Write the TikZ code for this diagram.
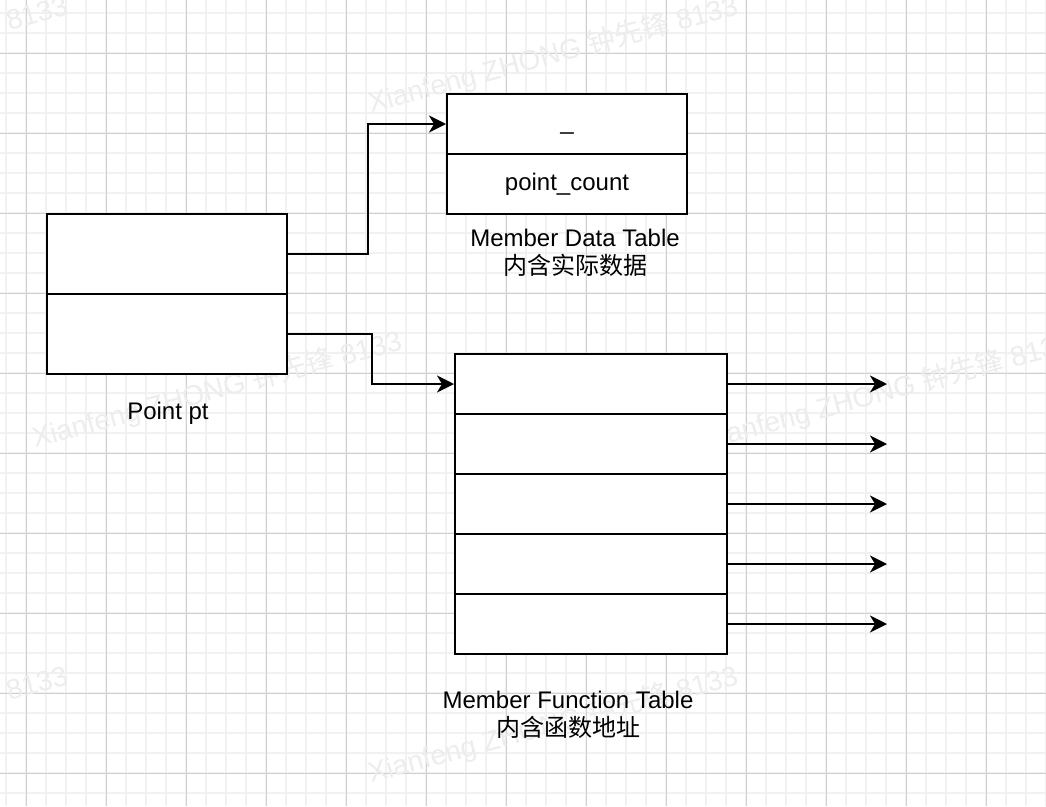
\documentclass[tikz,border=0pt]{standalone}
\usepackage{fontspec}
\setmainfont{Liberation Sans}
\newfontfamily\cjk{Noto Sans CJK SC}
\usetikzlibrary{arrows.meta}
\definecolor{minorgrid}{HTML}{F1F1F1}
\definecolor{majorgrid}{HTML}{D0D0D0}
\definecolor{wmark}{HTML}{EDEDED}
\begin{document}
\begin{tikzpicture}[x=1pt,y=-1pt,
  cell/.style={draw=black,line width=2pt,fill=white,inner sep=0pt,font=\fontsize{24}{28}\selectfont},
  lbl/.style={align=center,inner sep=0pt,font=\fontsize{24}{28}\selectfont},
  conn/.style={line width=2pt,-{Stealth[length=17pt,width=17pt,inset=5pt]}},
  wm/.style={rotate=15,text=wmark,font=\fontsize{28}{32}\selectfont,inner sep=0pt},
  minorline/.style={draw=minorgrid,line width=1.5pt},
  majorline/.style={draw=majorgrid,line width=1pt},
]
\useasboundingbox (0,0) rectangle (1046,806);
\fill[white] (0,0) rectangle (1046,806);
% grid
\foreach \x in {6,26,...,1046} \draw[minorline] (\x,0) -- (\x,806);
\foreach \y in {13,33,...,806} \draw[minorline] (0,\y) -- (1046,\y);
\foreach \x in {26,106,...,1046} \draw[majorline] (\x,0) -- (\x,806);
\foreach \y in {53,133,...,806} \draw[majorline] (0,\y) -- (1046,\y);
% watermark
\begin{scope}
\clip (0,0) rectangle (1046,806);
\foreach \p [count=\i] in {(553,55),(217,390),(887,392),(553,725),(-117,55),(-117,725)}
  \node[wm] (wm\i) at \p {Xianfeng ZHONG {\cjk 钟先锋} 8133};
\end{scope}
% Point pt
\node[cell,minimum width=240pt,minimum height=80pt] (pA) at (167,254) {};
\node[cell,minimum width=240pt,minimum height=80pt] (pB) at (167,334) {};
\node[lbl] (pL) at (168,413) {Point pt};
% Member data table
\node[cell,minimum width=240pt,minimum height=60pt] (dA) at (567,124) {\vphantom{Ag}\_};
\node[cell,minimum width=240pt,minimum height=60pt] (dB) at (567,184) {\vphantom{Ag}point\_count};
\node[lbl] (dL) at (575,253) {Member Data Table\\{\cjk 内含实际数据}};
% Member function table
\foreach \i/\y in {1/384,2/444,3/504,4/564,5/624}
  \node[cell,minimum width=272pt,minimum height=60pt] (f\i) at (591,\y) {};
\node[lbl] (fL) at (568,715) {Member Function Table\\{\cjk 内含函数地址}};
% connectors
\draw[conn] (pA.east) -- ++(80,0) |- (dA.west);
\draw[conn] (pB.east) -- ++(84,0) |- (f1.west);
\foreach \i/\y in {1/384,2/444,3/504,4/564,5/624}{
  \coordinate (o\i) at (887,\y);
  \draw[conn] (f\i.east) -- (o\i);
}
\end{tikzpicture}
\end{document}
